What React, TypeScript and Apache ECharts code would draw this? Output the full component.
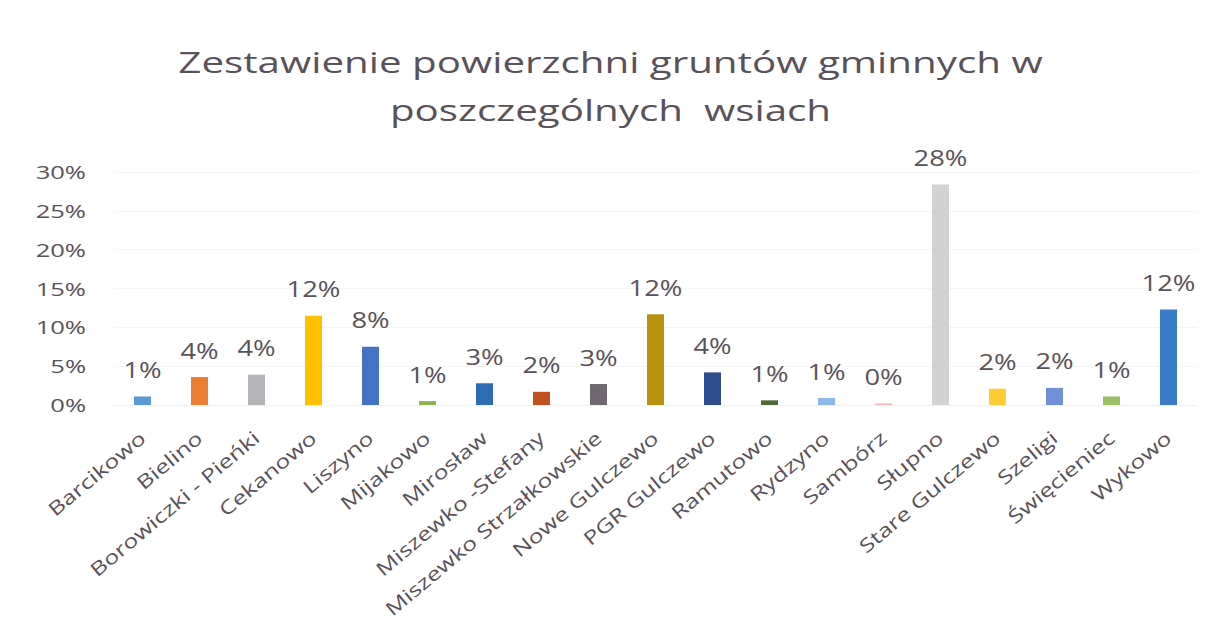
import React, { useEffect, useRef } from "react";
import * as echarts from "echarts";

const categories = [
  "Barcikowo",
  "Bielino",
  "Borowiczki - Pieńki",
  "Cekanowo",
  "Liszyno",
  "Mijakowo",
  "Mirosław",
  "Miszewko -Stefany",
  "Miszewko Strzałkowskie",
  "Nowe Gulczewo",
  "PGR Gulczewo",
  "Ramutowo",
  "Rydzyno",
  "Sambórz",
  "Słupno",
  "Stare Gulczewo",
  "Szeligi",
  "Święcieniec",
  "Wykowo",
];

// share of area (%)
const values = [1.1, 3.6, 3.9, 11.5, 7.5, 0.5, 2.8, 1.7, 2.7, 11.7, 4.2, 0.6, 0.9, 0.2, 28.4, 2.1, 2.2, 1.1, 12.3];

const barColors = [
  "#5B9BD5", "#ED7D31", "#B4B4B8", "#FFC000", "#4472C4", "#8DB050", "#2E6DB4", "#C0501E",
  "#706870", "#B8920E", "#2F4D8E", "#4E6B3A", "#8DB8EA", "#F4B6B6", "#D2D2D4", "#FFCD33",
  "#7090D8", "#9CC068", "#3A7CC8",
];

const yTicks = [0, 5, 10, 15, 20, 25, 30];

const TEXT = "#59525a";
const FONT = "Open Sans";

// horizontal widening of glyphs (the source picture is stretched sideways)
const stretchBySize: Record<string, number> = { "29px": 1.39, "18px": 1.42, "21px": 1.3, "19px": 1.3 };

function widenTexts(root: HTMLElement | null) {
  if (!root) return;
  root.querySelectorAll("text").forEach((t) => {
    const el = t as SVGTextElement;
    if (!el.textContent) return;
    const size = getComputedStyle(el).fontSize;
    const f = stretchBySize[size];
    if (!f) return;
    if (!el.dataset.baseLen) {
      el.removeAttribute("textLength");
      el.dataset.baseLen = String(el.getComputedTextLength());
    }
    const len = Number(el.dataset.baseLen) * f;
    el.setAttribute("textLength", String(len));
    el.setAttribute("lengthAdjust", "spacingAndGlyphs");
  });
}

export default function App() {
  const ref = useRef<HTMLDivElement>(null);
  useEffect(() => {
    if (!ref.current) return;
    const chart = echarts.init(ref.current, undefined, { renderer: "svg" });
    chart.setOption({
      animation: false,
      backgroundColor: "#ffffff",
      title: {
        text: "Zestawienie powierzchni gruntów gminnych w\nposzczególnych  wsiach",
        left: "center",
        top: 24,
        textStyle: {
          fontFamily: FONT,
          fontSize: 29,
          fontWeight: "normal",
          color: TEXT,
          lineHeight: 48,
        },
      },
      grid: { left: 106, right: 16, top: 164, bottom: 231, containLabel: false },
      xAxis: {
        type: "category",
        data: categories,
        axisLine: { show: true, lineStyle: { color: "#f0f0f0" } },
        axisTick: { show: false },
        axisLabel: {
          rotate: 40,
          interval: 0,
          margin: 30,
          fontFamily: FONT,
          fontSize: 19,
          color: TEXT,
        },
      },
      yAxis: {
        type: "value",
        min: yTicks[0],
        max: yTicks[yTicks.length - 1],
        interval: 5,
        axisLine: { show: false },
        axisTick: { show: false },
        splitLine: { show: true, lineStyle: { color: "#f5f5f5" } },
        axisLabel: {
          margin: 28,
          fontFamily: FONT,
          fontSize: 18,
          color: TEXT,
          formatter: (v: number) => `${v}%`,
        },
      },
      series: [
        {
          type: "bar",
          barWidth: 17,
          data: values.map((v, i) => ({ value: v, itemStyle: { color: barColors[i] } })),
          label: {
            show: true,
            position: "top",
            distance: 16,
            fontFamily: FONT,
            fontSize: 21,
            color: TEXT,
            formatter: (p: any) => `${Math.round(p.value)}%`,
          },
        },
      ],
    });
    const apply = () => widenTexts(ref.current);
    apply();
    chart.on("finished", apply);
    const t1 = setTimeout(apply, 0);
    const t2 = setTimeout(apply, 100);
    return () => {
      clearTimeout(t1);
      clearTimeout(t2);
      chart.dispose();
    };
  }, []);
  return <div ref={ref} style={{ width: 1205, height: 628 }} />;
}
